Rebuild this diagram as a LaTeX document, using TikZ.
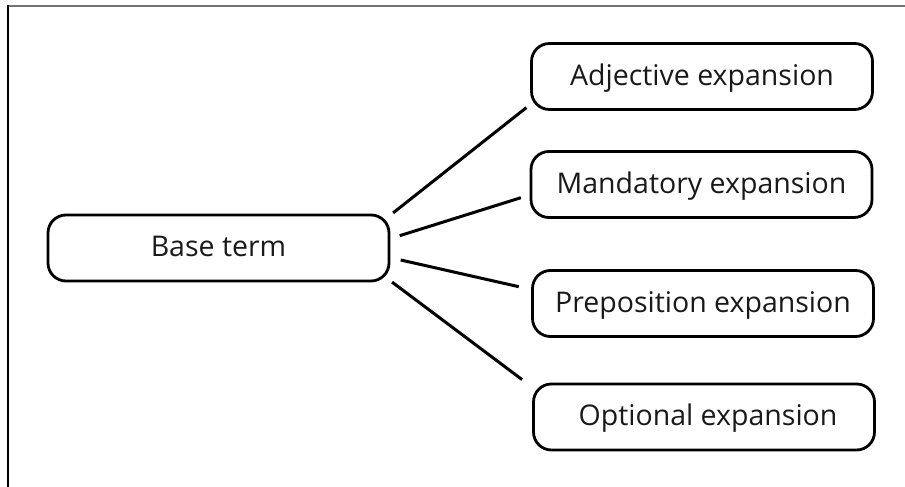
\documentclass[tikz,border=0pt]{standalone}
\usepackage{fontspec}
\setmainfont{Open Sans}
\begin{document}
\begin{tikzpicture}[x=1pt,y=1pt,
  termbox/.style={draw=black, line width=2.8pt, rounded corners=18pt,
    minimum width=341pt, minimum height=66pt, inner sep=0pt,
    text height=21pt, text depth=3pt,
    text=black!90, font=\fontsize{28.5}{33}\selectfont},
  conn/.style={draw=black, line width=3pt}]
\useasboundingbox (0,0) rectangle (905,487);
\draw[black!55, line width=2pt] (8,480.5) -- (905,480.5);
\draw[black, line width=1.2pt] (8,481.5) -- (8,0);
\node[termbox] (base) at (218.5,239) {Base term};
\node[termbox] (adj)  at (702,410.5) {Adjective expansion};
\node[termbox] (mand) at (701.5,302.5) {Mandatory expansion};
\node[termbox] (prep) at (703,183.5) {Preposition expansion};
\node[termbox] (opt)  at (704,70) {\hspace{8pt}Optional expansion};
\draw[conn] ([xshift=2.7pt,yshift=0.7pt]base.north east) -- ([xshift=-3.7pt,yshift=3.3pt]adj.south west);
\draw[conn] ([xshift=9.3pt,yshift=12.3pt]base.east) -- ([xshift=-8.7pt,yshift=-13.2pt]mand.west);
\draw[conn] ([xshift=10.3pt,yshift=-12pt]base.east) -- ([xshift=-12.3pt,yshift=16.8pt]prep.west);
\draw[conn] ([xshift=1.7pt,yshift=0.3pt]base.south east) -- ([xshift=-10pt,yshift=3pt]opt.north west);
\end{tikzpicture}
\end{document}
